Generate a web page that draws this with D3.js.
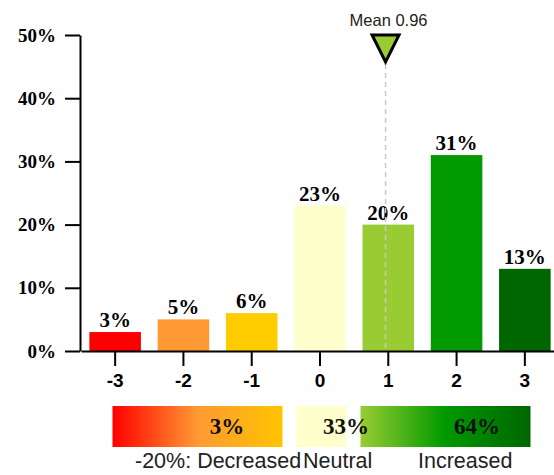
<!DOCTYPE html>
<html>
<head>
<meta charset="utf-8">
<script src="https://cdn.jsdelivr.net/npm/d3@7"></script>
<style>
  body { margin: 0; background: #fff; }
  svg { display: block; }
  .axis path, .axis line { stroke: #000; stroke-width: 2px; }
  .yaxis text { font-family: "Liberation Serif", serif; font-weight: bold; font-size: 19px; fill: #000; }
  .xaxis text { font-family: "Liberation Sans", Arial, sans-serif; font-weight: bold; font-size: 19px; fill: #000; }
</style>
</head>
<body>
<svg id="chart"></svg>
<script>
// Distribution of answers on a -3..3 scale
const categories = ["-3", "-2", "-1", "0", "1", "2", "3"];
const values = [3, 5, 6, 23, 20, 31, 13];
const barColors = ["#ff0000", "#ff9933", "#ffcc00", "#ffffcc", "#99cc33", "#009900", "#006600"];
const yTicks = [0, 10, 20, 30, 40, 50];
const meanValue = 0.96;

// Summary legend under the chart
const groupNames = ["-20%: Decreased", "Neutral", "Increased"];
const groupValues = [3, 33, 64];

const width = 554;
const height = 475;

const svg = d3.select("#chart")
  .attr("width", width)
  .attr("height", height);

// Scales
const x = d3.scaleBand()
  .domain(categories)
  .range([81, 559])
  .paddingInner(0.245)
  .paddingOuter(0.1225);

const y = d3.scaleLinear()
  .domain([0, 50])
  .range([351, 35]);

// numeric position along the category axis, used for the mean marker
const xNum = d3.scaleLinear()
  .domain([+categories[0], +categories[categories.length - 1]])
  .range([x(categories[0]) + x.bandwidth() / 2, x(categories[categories.length - 1]) + x.bandwidth() / 2]);

// Bars
svg.selectAll(".bar")
  .data(values)
  .enter()
  .append("rect")
  .attr("class", "bar")
  .attr("x", (d, i) => x(categories[i]))
  .attr("y", d => y(d))
  .attr("width", x.bandwidth())
  .attr("height", d => y(0) - y(d))
  .attr("fill", (d, i) => barColors[i]);

// Value labels above bars
svg.selectAll(".barLabel")
  .data(values)
  .enter()
  .append("text")
  .attr("class", "barLabel")
  .attr("x", (d, i) => x(categories[i]) + x.bandwidth() / 2)
  .attr("y", d => y(d) - 5)
  .attr("text-anchor", "middle")
  .style("font-family", "Liberation Serif, serif")
  .style("font-weight", "bold")
  .style("font-size", "21px")
  .text(d => d + "%");

// Mean marker
const mx = xNum(meanValue);
svg.append("line")
  .attr("x1", mx).attr("x2", mx)
  .attr("y1", 64).attr("y2", y(0))
  .attr("stroke", "#c8c8c8")
  .attr("stroke-width", 1.5)
  .attr("stroke-dasharray", "5,4");

svg.append("path")
  .attr("d", `M${mx - 13.5},35 L${mx + 13.5},35 L${mx},62 Z`)
  .attr("fill", "#99cc33")
  .attr("stroke", "#000")
  .attr("stroke-width", 3)
  .attr("stroke-linejoin", "miter");

svg.append("text")
  .attr("x", mx + 3)
  .attr("y", 26)
  .attr("text-anchor", "middle")
  .style("font-family", "Liberation Sans, Arial, sans-serif")
  .style("font-size", "16.5px")
  .attr("fill", "#222")
  .text("Mean " + meanValue);

// Axes
svg.append("g")
  .attr("class", "axis yaxis")
  .attr("transform", "translate(80,0)")
  .call(d3.axisLeft(y).tickValues(yTicks).tickFormat(d => d + "%").tickSize(15).tickSizeOuter(0).tickPadding(9));

svg.append("g")
  .attr("class", "axis xaxis")
  .attr("transform", `translate(0,${y(0)})`)
  .call(d3.axisBottom(x).tickSize(15).tickSizeOuter(0).tickPadding(8));

// Legend boxes
const legendBoxes = [
  { x0: 112.5, x1: 282.5, stops: ["#ff0000", "#ff9933", "#ffc400"], textX: 227 },
  { x0: 296.5, x1: 346.5, stops: ["#ffffcc", "#ffffcc"], textX: 346 },
  { x0: 360.5, x1: 530.5, stops: ["#99cc33", "#009900", "#006600"], textX: 477 }
];

const defs = svg.append("defs");
legendBoxes.forEach((b, i) => {
  const g = defs.append("linearGradient")
    .attr("id", "grad" + i)
    .attr("x1", "0%").attr("x2", "100%").attr("y1", "0%").attr("y2", "0%");
  b.stops.forEach((c, j) => {
    g.append("stop")
      .attr("offset", (j / (b.stops.length - 1) * 100) + "%")
      .attr("stop-color", c);
  });
});

svg.selectAll(".legendBox")
  .data(legendBoxes)
  .enter()
  .append("rect")
  .attr("class", "legendBox")
  .attr("x", d => d.x0)
  .attr("y", 406)
  .attr("width", d => d.x1 - d.x0)
  .attr("height", 41)
  .attr("fill", (d, i) => `url(#grad${i})`);

svg.selectAll(".legendValue")
  .data(groupValues)
  .enter()
  .append("text")
  .attr("class", "legendValue")
  .attr("x", (d, i) => legendBoxes[i].textX)
  .attr("y", 434)
  .attr("text-anchor", "middle")
  .style("font-family", "Liberation Serif, serif")
  .style("font-weight", "bold")
  .style("font-size", "23px")
  .attr("fill", "#111")
  .text(d => d + "%");

const nameX = [135, 303, 418];
svg.selectAll(".legendName")
  .data(groupNames)
  .enter()
  .append("text")
  .attr("class", "legendName")
  .attr("x", (d, i) => nameX[i])
  .attr("y", 468)
  .style("font-family", "Liberation Sans, Arial, sans-serif")
  .style("font-size", "21.5px")
  .attr("fill", "#222")
  .text(d => d);
</script>
</body>
</html>
